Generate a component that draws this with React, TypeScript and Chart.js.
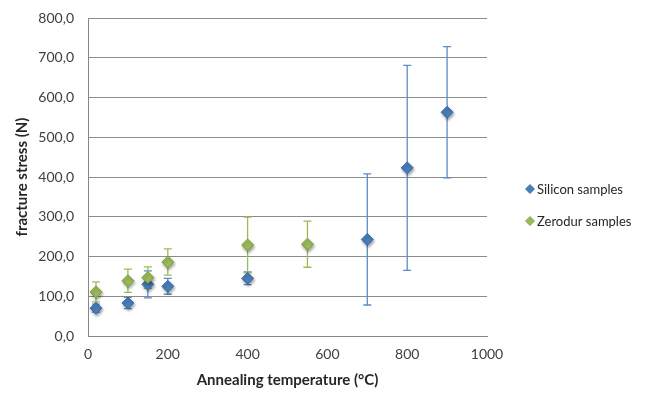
import React, { useEffect, useRef } from "react";
import { Chart, registerables } from "chart.js";

Chart.register(...registerables);

const siliconTemps = [20, 100, 150, 200, 400, 700, 800, 900];
const siliconValues = [70, 83, 130, 125, 145, 243, 423, 563];
const siliconErrors = [10, 14, 34, 20, 16, 165, 258, 165];

const zerodurTemps = [20, 100, 150, 200, 400, 550];
const zerodurValues = [111, 139, 147, 186, 229, 231];
const zerodurErrors = [25, 29, 27, 33, 70, 58];

const seriesLabels = ["Silicon samples", "Zerodur samples"];

const FONT = "Lato, 'Open Sans', sans-serif";

export default function App() {
  const ref = useRef<HTMLCanvasElement | null>(null);

  useEffect(() => {
    document.body.style.margin = "0";
    const canvas = ref.current;
    if (!canvas) return;

    const errorSets = [
      { errors: siliconErrors, color: "#5B8CC6" },
      { errors: zerodurErrors, color: "#9BBB59" },
    ];

    const errorBarPlugin = {
      id: "errorBars",
      beforeDatasetsDraw(chart: any) {
        const ctx = chart.ctx;
        const yScale = chart.scales.y;
        chart.data.datasets.forEach((ds: any, di: number) => {
          const meta = chart.getDatasetMeta(di);
          const set = errorSets[di];
          ctx.save();
          ctx.strokeStyle = set.color;
          ctx.lineWidth = 1.3;
          meta.data.forEach((pt: any, i: number) => {
            const v = ds.data[i].y;
            const e = set.errors[i];
            const x = pt.x;
            const yTop = yScale.getPixelForValue(v + e);
            const yBot = yScale.getPixelForValue(v - e);
            ctx.beginPath();
            ctx.moveTo(x, yTop);
            ctx.lineTo(x, yBot);
            ctx.moveTo(x - 4, yTop);
            ctx.lineTo(x + 4, yTop);
            ctx.moveTo(x - 4, yBot);
            ctx.lineTo(x + 4, yBot);
            ctx.stroke();
          });
          ctx.restore();
        });
      },
      beforeDatasetDraw(chart: any) {
        const ctx = chart.ctx;
        ctx.save();
        ctx.shadowColor = "rgba(0,0,0,0.35)";
        ctx.shadowBlur = 3;
        ctx.shadowOffsetX = 1;
        ctx.shadowOffsetY = 2;
      },
      afterDatasetDraw(chart: any) {
        chart.ctx.restore();
      },
      afterDraw(chart: any) {
        const ctx = chart.ctx;
        const items = [
          { label: seriesLabels[0], fill: "#4A7EBB", stroke: "#3A6AA5", y: 189 },
          { label: seriesLabels[1], fill: "#9BBB59", stroke: "#7E9D40", y: 221 },
        ];
        ctx.save();
        items.forEach((it) => {
          const cx = 530;
          const r = 4.5;
          ctx.beginPath();
          ctx.moveTo(cx, it.y - r);
          ctx.lineTo(cx + r, it.y);
          ctx.lineTo(cx, it.y + r);
          ctx.lineTo(cx - r, it.y);
          ctx.closePath();
          ctx.fillStyle = it.fill;
          ctx.fill();
          ctx.strokeStyle = it.stroke;
          ctx.lineWidth = 0.8;
          ctx.stroke();
          ctx.fillStyle = "#262626";
          ctx.font = `13px ${FONT}`;
          ctx.textBaseline = "middle";
          ctx.textAlign = "left";
          ctx.fillText(it.label, 537, it.y + 1);
        });
        ctx.restore();
      },
    };

    const chart = new Chart(canvas, {
      type: "scatter",
      data: {
        datasets: [
          {
            label: seriesLabels[0],
            data: siliconTemps.map((t, i) => ({ x: t, y: siliconValues[i] })),
            pointStyle: "rectRot",
            pointRadius: 6,
            backgroundColor: "#4A7EBB",
            borderColor: "#3A6AA5",
            borderWidth: 1,
            order: 2,
          },
          {
            label: seriesLabels[1],
            data: zerodurTemps.map((t, i) => ({ x: t, y: zerodurValues[i] })),
            pointStyle: "rectRot",
            pointRadius: 6,
            backgroundColor: "#9BBB59",
            borderColor: "#7E9D40",
            borderWidth: 1,
            order: 1,
          },
        ],
      },
      options: {
        animation: false,
        responsive: false,
        maintainAspectRatio: false,
        layout: { padding: { top: 18, right: 167, left: 0, bottom: 0 } },
        plugins: {
          legend: { display: false },
          tooltip: { enabled: false },
        },
        scales: {
          x: {
            type: "linear",
            min: 0,
            max: 1000,
            ticks: {
              stepSize: 200,
              color: "#404040",
              font: { family: FONT, size: 14 },
              padding: 10,
              callback: (v: any) => String(v),
            },
            grid: { display: false, drawTicks: false },
            border: { display: true, color: "#868686", width: 1 },
            title: {
              display: true,
              text: "Annealing temperature (°C)",
              color: "#262626",
              font: { family: FONT, size: 15, weight: "bold" },
              padding: { top: 4, bottom: 4 },
            },
            afterFit(scale: any) {
              scale.height = 57;
            },
          },
          y: {
            type: "linear",
            min: 0,
            max: 800,
            ticks: {
              stepSize: 100,
              color: "#404040",
              font: { family: FONT, size: 14 },
              padding: 14,
              callback: (v: any) => Number(v).toFixed(1).replace(".", ","),
            },
            grid: { color: "#8C8C8C", lineWidth: 1, drawTicks: false },
            border: { display: true, color: "#868686", width: 1 },
            title: {
              display: true,
              text: "fracture stress (N)",
              color: "#262626",
              font: { family: FONT, size: 15, weight: "bold" },
              padding: { top: 13, bottom: 4 },
            },
            afterFit(scale: any) {
              scale.width = 88;
              scale.paddingTop = 0;
              scale.paddingBottom = 0;
            },
          },
        },
      },
      plugins: [errorBarPlugin],
    });

    return () => chart.destroy();
  }, []);

  return (
    <div style={{ width: 654, height: 393, background: "#fff" }}>
      <canvas ref={ref} width={654} height={393} style={{ display: "block" }} />
    </div>
  );
}
